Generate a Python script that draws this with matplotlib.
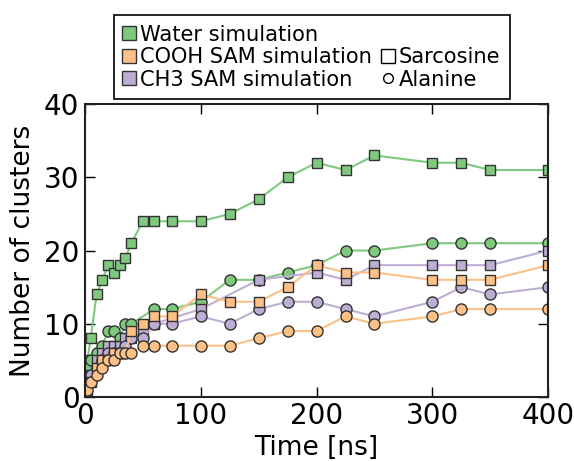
import matplotlib
matplotlib.use("Agg")
import matplotlib.pyplot as plt
from matplotlib.lines import Line2D

GREEN = "#7fc97f"; ORANGE = "#fdc086"; PURPLE = "#beaed4"; EDGE = "#333333"

# ---------------------------------------------------------------- data
water_sar_t = [2, 5, 10, 15, 20, 25, 30, 35, 40, 50, 60, 75, 100, 125, 150, 175, 200, 225, 250, 300, 325, 350, 400]
water_sar_n = [5, 8, 14, 16, 18, 17, 18, 19, 21, 24, 24, 24, 24, 25, 27, 30, 32, 31, 33, 32, 32, 31, 31]

water_ala_t = [2, 5, 10, 15, 20, 25, 30, 35, 40, 60, 75, 100, 125, 150, 175, 200, 225, 250, 300, 325, 350, 400]
water_ala_n = [4, 5, 6, 7, 9, 9, 8, 10, 10, 12, 12, 13, 16, 16, 17, 18, 20, 20, 21, 21, 21, 21]

ch3_sar_t = [2, 5, 10, 15, 20, 25, 30, 35, 40, 50, 60, 100, 150, 200, 225, 250, 300, 325, 350, 400]
ch3_sar_n = [2, 3, 5, 6, 7, 7, 7, 8, 8, 9, 10, 12, 16, 17, 16, 18, 18, 18, 18, 20]

ch3_ala_t = [2, 5, 10, 15, 20, 25, 30, 35, 40, 50, 60, 75, 100, 125, 150, 175, 200, 225, 250, 300, 325, 350, 400]
ch3_ala_n = [2, 3, 4, 5, 6, 6, 6, 7, 8, 8, 10, 10, 11, 10, 12, 13, 13, 12, 11, 13, 15, 14, 15]

cooh_sar_t = [2, 5, 10, 15, 20, 25, 30, 35, 40, 50, 60, 75, 100, 125, 150, 175, 200, 225, 250, 300, 325, 350, 400]
cooh_sar_n = [1, 2, 4, 5, 5, 6, 6, 6, 9, 10, 11, 11, 14, 13, 13, 15, 18, 17, 17, 16, 16, 16, 18]

cooh_ala_t = [2, 5, 10, 15, 20, 25, 30, 35, 40, 50, 60, 75, 100, 125, 150, 175, 200, 225, 250, 300, 325, 350, 400]
cooh_ala_n = [1, 2, 3, 4, 5, 5, 6, 6, 6, 7, 7, 7, 7, 7, 8, 9, 9, 11, 10, 11, 12, 12, 12]

plt.rcParams.update({"font.family": "DejaVu Sans", "font.size": 19})

fig = plt.figure(figsize=(5.74, 4.61), dpi=100)
ax = fig.add_axes([0.148, 0.139, 0.807, 0.635])

series = [
    (water_sar_t, water_sar_n, GREEN, "s"),
    (water_ala_t, water_ala_n, GREEN, "o"),
    (ch3_sar_t, ch3_sar_n, PURPLE, "s"),
    (ch3_ala_t, ch3_ala_n, PURPLE, "o"),
    (cooh_sar_t, cooh_sar_n, ORANGE, "s"),
    (cooh_ala_t, cooh_ala_n, ORANGE, "o"),
]
for t, n, c, m in series:
    ax.plot(t, n, color=c, lw=1.5, marker=m, markersize=7.5 if m == "s" else 8,
            markerfacecolor=c, markeredgecolor=EDGE, markeredgewidth=1.0)

ax.set_xlim(0, 400); ax.set_ylim(0, 40)
ax.set_xticks([0, 100, 200, 300, 400]); ax.set_yticks([0, 10, 20, 30, 40])
ax.tick_params(direction="in", top=True, right=True, length=7, width=1, labelsize=20, pad=4)
for s in ax.spines.values():
    s.set_linewidth(1.5); s.set_color("#222222")
ax.set_xlabel("Time [ns]", fontsize=19, labelpad=3)
ax.set_ylabel("Number of clusters", fontsize=19, labelpad=6)

# legend: colour column + marker column in one frame
def sq(c):
    return Line2D([], [], ls="none", marker="s", markersize=10, markerfacecolor=c,
                  markeredgecolor=EDGE, markeredgewidth=1.0)
blank = Line2D([], [], ls="none", marker="None")
handles = [sq(GREEN), sq(ORANGE), sq(PURPLE), blank,
           Line2D([], [], ls="none", marker="s", markersize=10, markerfacecolor="white",
                  markeredgecolor="black", markeredgewidth=1.0),
           Line2D([], [], ls="none", marker="o", markersize=7, markerfacecolor="white",
                  markeredgecolor="black", markeredgewidth=1.0)]
labels = ["Water simulation", "COOH SAM simulation", "CH3 SAM simulation", "", "Sarcosine", "Alanine"]
leg = fig.legend(handles, labels, loc="upper center", bbox_to_anchor=(0.543, 0.99), ncol=2,
                 fontsize=15.1, handlelength=0.6, handletextpad=0.2, columnspacing=0.5,
                 labelspacing=0.12, borderpad=0.45, fancybox=False, framealpha=1)
leg.get_frame().set_edgecolor("black"); leg.get_frame().set_linewidth(1.2)

fig.savefig("out.png", dpi=100)
